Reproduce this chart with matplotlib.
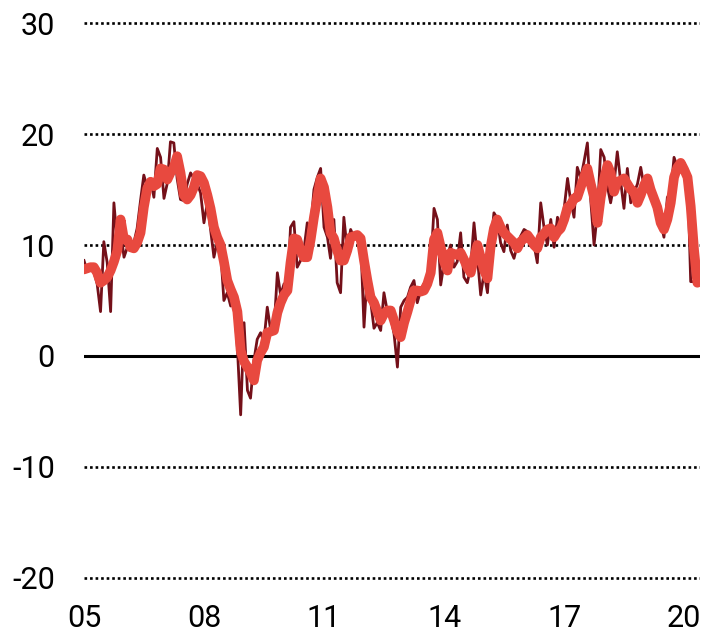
import numpy as np
import pandas as pd
import matplotlib
matplotlib.use('Agg')
import matplotlib.pyplot as plt

# monthly values, Jan 2005 onwards
monthly = [8.6, 7.6, 7.8, 7.6, 6.5, 4.0, 10.3, 8.4, 4.0, 13.8, 10.2, 11.4,
           8.9, 9.8, 9.5, 10.2, 11.5, 14.0, 16.3, 15.2, 15.9, 14.3, 18.7, 17.9,
           14.2, 15.6, 19.3, 19.2, 16.0, 14.1, 14.0, 15.5, 16.5, 16.0, 15.5, 14.7,
           12.0, 13.8, 11.4, 8.9, 10.3, 9.5, 5.0, 5.7, 4.5, 5.0, 0.8, -5.3,
           3.0, -3.1, -3.8, -0.4, 1.5, 2.1, 1.3, 4.4, 2.3, 2.3, 7.5, 5.5,
           6.5, 5.7, 11.6, 12.1, 8.0, 8.6, 9.5, 12.0, 11.5, 15.0, 16.1, 16.9,
           11.6, 10.7, 8.8, 12.3, 6.6, 5.7, 12.5, 9.5, 11.4, 10.7, 10.5, 10.7,
           2.6, 7.7, 5.0, 2.5, 3.0, 2.3, 5.7, 4.0, 3.5, 2.0, -1.0, 4.4,
           5.0, 5.3, 6.2, 6.8, 4.8, 5.9, 6.5, 6.8, 8.0, 13.3, 12.3, 6.4,
           8.4, 9.0, 10.0, 8.0, 8.5, 11.1, 7.1, 6.6, 8.0, 12.0, 8.9, 5.5,
           7.5, 5.7, 9.8, 12.9, 12.4, 10.2, 9.4, 11.8, 9.5, 8.8, 10.0, 10.8,
           11.4, 11.2, 10.5, 10.0, 8.4, 13.8, 11.6, 10.0, 12.3, 9.8, 12.5, 11.6,
           13.3, 16.0, 14.0, 12.5, 17.0, 16.0, 17.5, 19.2, 14.0, 10.0, 13.0, 18.6,
           17.9, 15.2, 13.8, 15.5, 18.4, 15.7, 13.3, 16.9, 13.8, 14.7, 15.5, 17.0,
           15.2, 15.9, 15.0, 13.8, 12.5, 12.0, 10.7, 14.3, 14.7, 17.9, 17.0, 17.4,
           17.4, 16.5, 6.7, 6.7, 6.6]

# smoothed series
smooth = [7.8, 7.9, 8.0, 8.0, 7.5, 6.6, 6.8, 7.1, 7.7, 8.5, 9.5, 12.3,
          10.5, 10.5, 9.8, 9.7, 10.2, 11.1, 13.4, 15.1, 15.7, 15.3, 15.5, 16.9,
          16.8, 15.9, 16.5, 17.0, 18.0, 16.5, 14.5, 14.1, 14.5, 15.2, 16.3, 16.2,
          15.6, 14.5, 13.3, 11.6, 10.7, 10.0, 8.5, 6.8, 6.0, 5.3, 4.0, 0.5,
          -0.5, -1.0, -1.5, -2.2, -0.4, 0.3, 0.8, 2.1, 2.2, 2.3, 3.9, 4.8,
          5.5, 5.9, 8.4, 10.6, 10.5, 9.5, 8.9, 8.9, 10.5, 12.5, 14.3, 16.0,
          15.2, 13.4, 11.1, 10.6, 9.5, 8.6, 8.6, 9.5, 10.7, 10.8, 10.9, 10.6,
          8.6, 6.8, 5.3, 4.8, 4.0, 3.2, 3.8, 4.1, 4.1, 3.2, 2.2, 1.7,
          3.0, 4.0, 5.0, 5.9, 5.9, 5.8, 5.9, 6.5, 7.5, 10.5, 11.1, 9.8,
          8.5, 7.7, 9.3, 9.2, 9.1, 9.3, 8.7, 8.0, 7.5, 8.8, 10.0, 8.9,
          7.7, 7.0, 9.8, 11.5, 12.3, 11.6, 11.1, 10.8, 10.5, 10.2, 9.7, 10.3,
          10.6, 10.9, 10.5, 10.0, 9.7, 10.7, 11.0, 11.4, 11.5, 10.7, 11.2, 11.5,
          12.3, 13.4, 13.6, 14.2, 14.3, 15.2, 16.1, 16.9, 15.5, 14.3, 12.0, 14.3,
          16.0, 17.2, 16.5, 14.8, 15.7, 15.8, 16.0, 15.5, 15.0, 14.8, 13.8, 14.5,
          15.4, 16.0, 15.0, 14.2, 13.4, 12.0, 11.4, 12.3, 13.8, 16.1, 17.0, 17.4,
          16.8, 16.1, 13.5, 9.5, 6.6]

dates = pd.date_range('2005-01-01', periods=len(monthly), freq='MS')
tick_years = [2005, 2008, 2011, 2014, 2017, 2020]
tick_labels = ['05', '08', '11', '14', '17', '20']
y_ticks = [-20, -10, 0, 10, 20, 30]

plt.rcParams['font.family'] = ['Roboto', 'DejaVu Sans']

fig = plt.figure(figsize=(7.05, 6.31), dpi=100)
ax = fig.add_axes([84/705, 1 - 581.3/631, 616/705, 561.6/631])

for v in y_ticks:
    if v == 0:
        ax.axhline(v, color='black', lw=2.2, zorder=1)
    else:
        ax.axhline(v, color='black', lw=1.9, ls=(0, (1, 1.1)), zorder=1)

ax.plot(dates, monthly, color='#741019', lw=2.0, zorder=2)
ax.plot(dates, smooth, color='#e8493f', lw=7, zorder=3,
        solid_joinstyle='round', solid_capstyle='round')

ax.set_ylim(-20.3, 30.3)
ax.set_xlim(pd.Timestamp('2005-01-01'), pd.Timestamp('2020-05-25'))
ax.set_yticks(y_ticks)
ax.set_yticklabels([str(v) for v in y_ticks])
ax.set_xticks([pd.Timestamp(f'{y}-01-01') for y in tick_years])
ax.set_xticklabels(tick_labels)
ax.tick_params(axis='y', length=0, pad=21, labelsize=22)
ax.tick_params(axis='x', length=0, pad=16, labelsize=22)
for s in ax.spines.values():
    s.set_visible(False)

plt.savefig('out.png', dpi=100)
